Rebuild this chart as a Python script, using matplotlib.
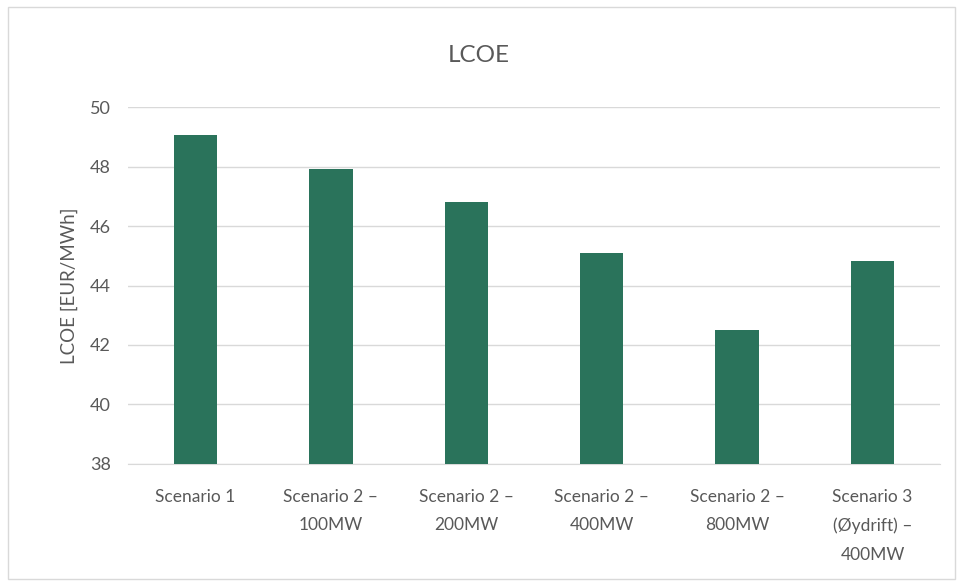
""" LCOE per scenario, bar chart. """

import matplotlib.pyplot as plt
from matplotlib.patches import Rectangle

SCENARIOS = ["Scenario 1", "Scenario 2 \u2013\n100MW", "Scenario 2 \u2013\n200MW",
             "Scenario 2 \u2013\n400MW", "Scenario 2 \u2013\n800MW",
             "Scenario 3\n(\u00d8ydrift) \u2013\n400MW"]
LCOE = [49.05, 47.9, 46.82, 45.1, 42.52, 44.83]
YTICKS = [38, 40, 42, 44, 46, 48, 50]

GREY = "#595959"
plt.rcParams["font.family"] = ["Lato", "DejaVu Sans"]

fig = plt.figure(figsize=(9.57, 5.81), dpi=100)
ax = fig.add_axes([0.1335, 0.2014, 0.849, 0.6144])

x = range(len(SCENARIOS))
ax.bar(x, LCOE, width=0.32, color="#2A735B", zorder=3)

ax.set_ylim(38, 50)
ax.set_xlim(-0.5, len(SCENARIOS) - 0.5)
ax.set_yticks(YTICKS)
ax.set_xticks(list(x))
ax.set_xticklabels(SCENARIOS, fontsize=12.5, color=GREY, linespacing=1.95)
ax.tick_params(axis="y", labelsize=13, colors=GREY, length=0, pad=12)
ax.tick_params(axis="x", length=0, pad=18)
ax.grid(axis="y", color="#D9D9D9", linewidth=1, zorder=0)
for side in ["top", "right", "left"]:
    ax.spines[side].set_visible(False)
ax.spines["bottom"].set_color("#D9D9D9")

ax.set_ylabel("LCOE [EUR/MWh]", fontsize=13.5, color=GREY, labelpad=9)
fig.text(0.5, 0.905, "LCOE", ha="center", va="center", fontsize=17.5, color=GREY)

# thin frame around the whole chart
fig.patches.append(Rectangle((0.008, 0.003), 0.99, 0.985, transform=fig.transFigure,
                             fill=False, edgecolor="#D9D9D9", linewidth=1))

fig.savefig("out.png", dpi=100)
